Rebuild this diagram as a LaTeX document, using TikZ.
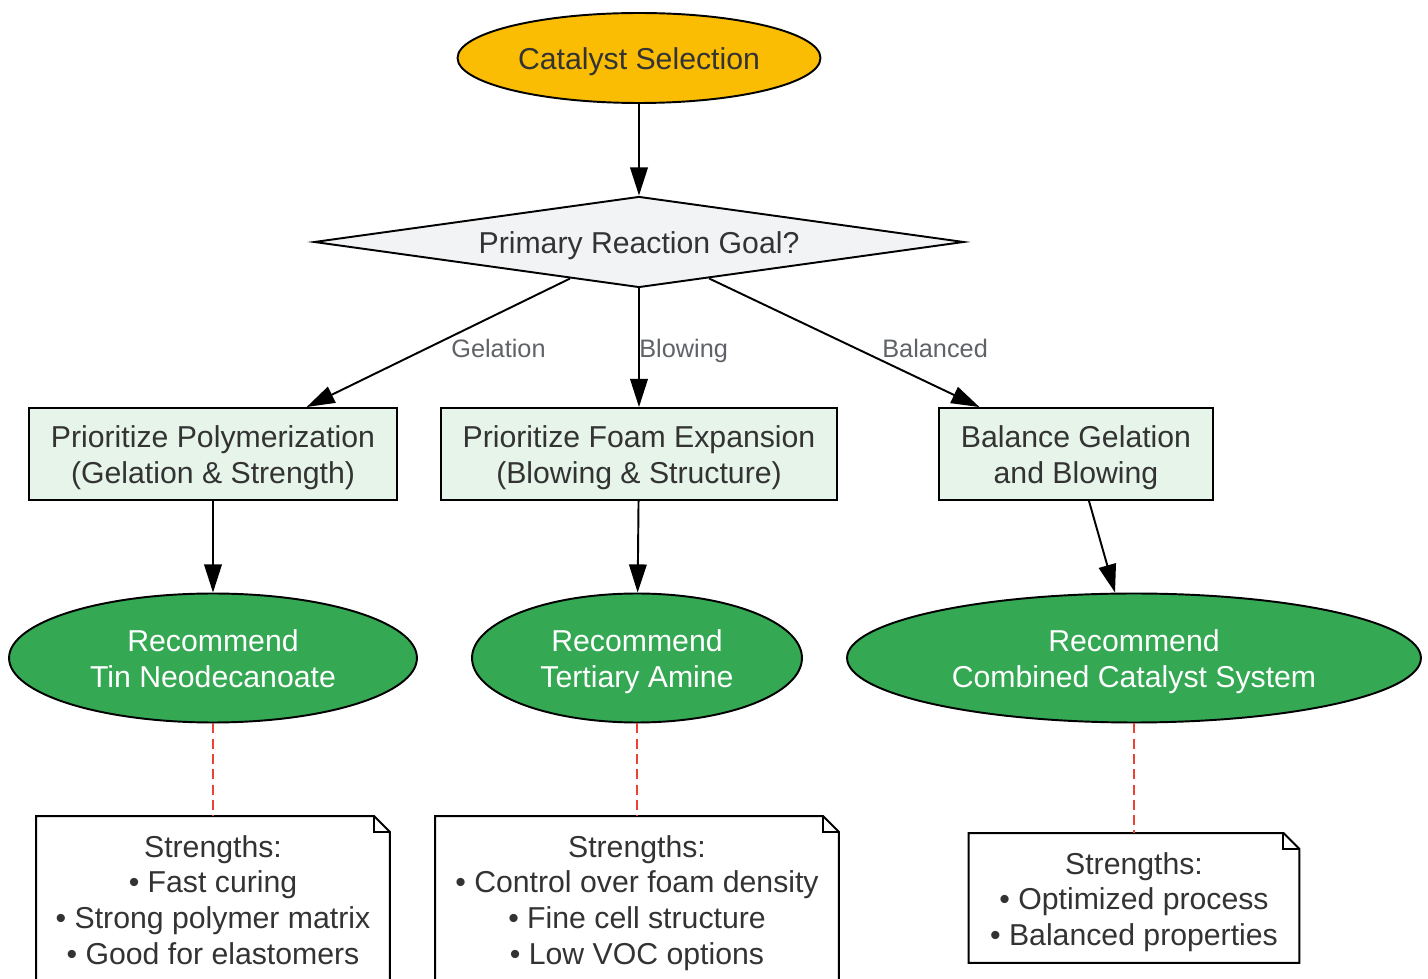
\documentclass[tikz,border=0pt]{standalone}
\usepackage{fontspec}
\setmainfont{Liberation Sans}
\usetikzlibrary{shapes.geometric,arrows.meta,calc}
\definecolor{gold}{HTML}{FBBC04}
\definecolor{decfill}{HTML}{F1F3F4}
\definecolor{boxfill}{HTML}{E6F4EA}
\definecolor{recfill}{HTML}{34A853}
\definecolor{txt}{HTML}{333333}
\definecolor{lblc}{HTML}{5F6368}
\definecolor{dashc}{HTML}{EA4335}
\newcommand{\nt}[1]{\smash{\raisebox{-7pt}{\begin{tabular}{@{}c@{}}#1\end{tabular}}}}
\tikzset{
  base/.style={font=\fontsize{17.2}{20.4}\selectfont, text=txt, inner sep=0pt, line width=1.1pt},
  startnode/.style={base, ellipse, draw=black, fill=gold},
  decide/.style={base, diamond, aspect=7, draw=black, fill=decfill},
  procbox/.style={base, rectangle, draw=black, fill=boxfill},
  recnode/.style={base, ellipse, draw=black, fill=recfill, text=white},
  notebox/.style={base, rectangle, fill=white},
  noteline/.style={line width=1.1pt, draw=black},
  lbl/.style={font=\fontsize{14.4}{17}\selectfont, text=lblc, inner sep=0pt, anchor=west, text height=0.72em, text depth=0pt},
  arr/.style={line width=1.1pt, -{Triangle[length=16pt,width=10pt]}},
  dashln/.style={line width=1.15pt, dashc, dash pattern=on 5.7pt off 3pt},
}
\newcommand{\foldnote}[1]{%
  \draw[noteline] (#1.south west) -- (#1.north west) -- ([xshift=-0.32cm]#1.north east)
    -- ([yshift=-0.32cm]#1.north east) -- (#1.south east) -- cycle;
  \draw[noteline] ([xshift=-0.32cm]#1.north east) -- ([xshift=-0.32cm,yshift=-0.32cm]#1.north east)
    -- ([yshift=-0.32cm]#1.north east);
}
\begin{document}
\begin{tikzpicture}[x=0.02cm,y=-0.02cm]
\useasboundingbox (0,0) rectangle (1428,979);
\fill[white] (0,0) rectangle (1428,979);

\node[startnode, minimum width=7.26cm, minimum height=1.8cm] (cs) at (639,58) {\nt{Catalyst Selection}};
\node[decide, minimum width=13cm, minimum height=1.82cm] (d) at (639,242) {\nt{Primary Reaction Goal?}};

\node[procbox, minimum width=7.36cm, minimum height=1.84cm] (b1) at (213,454) {\nt{Prioritize Polymerization\\(Gelation \& Strength)}};
\node[procbox, minimum width=7.92cm, minimum height=1.84cm] (b2) at (639,454) {\nt{Prioritize Foam Expansion\\(Blowing \& Structure)}};
\node[procbox, minimum width=5.48cm, minimum height=1.84cm] (b3) at (1076,454) {\nt{Balance Gelation\\and Blowing}};

\node[recnode, minimum width=8.16cm, minimum height=2.58cm] (e1) at (213,658) {\nt{Recommend\\Tin Neodecanoate}};
\node[recnode, minimum width=6.6cm, minimum height=2.58cm] (e2) at (637,658) {\nt{Recommend\\Tertiary Amine}};
\node[recnode, minimum width=11.48cm, minimum height=2.58cm] (e3) at (1134,658) {\nt{Recommend\\Combined Catalyst System}};

\node[notebox, minimum width=7.04cm, minimum height=3.28cm] (n1) at (213,899) {\nt{Strengths:\\• Fast curing\\• Strong polymer matrix\\• Good for elastomers}};
\node[notebox, minimum width=8.04cm, minimum height=3.28cm] (n2) at (637,899) {\nt{Strengths:\\• Control over foam density\\• Fine cell structure\\• Low VOC options}};
\node[notebox, minimum width=6.58cm, minimum height=2.56cm] (n3) at (1134,898) {\nt{Strengths:\\• Optimized process\\• Balanced properties}};
\foldnote{n1}
\foldnote{n2}
\foldnote{n3}

\draw[arr] (cs) -- (d);
\draw[arr] ($(d.west)!0.788!(d.south)$) -- ($(b1.north west)!0.753!(b1.north east)$);
\draw[arr] (d.south) -- (b2.north);
\draw[arr] ($(d.south)!0.215!(d.east)$) -- ($(b3.north west)!0.15!(b3.north east)$);

\node[lbl] (lg) at (451,351) {Gelation};
\node[lbl] (lb) at (639,351) {Blowing};
\node[lbl] (lc) at (882,351) {Balanced};

\draw[arr] (b1) -- (e1);
\draw[arr] (b2) -- (e2);
\draw[arr] ($(b3.south west)!0.547!(b3.south east)$) -- ([xshift=-0.38cm]e3.north);

\draw[dashln] (e1) -- (n1);
\draw[dashln] (e2) -- (n2);
\draw[dashln] (e3) -- (n3);
\end{tikzpicture}
\end{document}
